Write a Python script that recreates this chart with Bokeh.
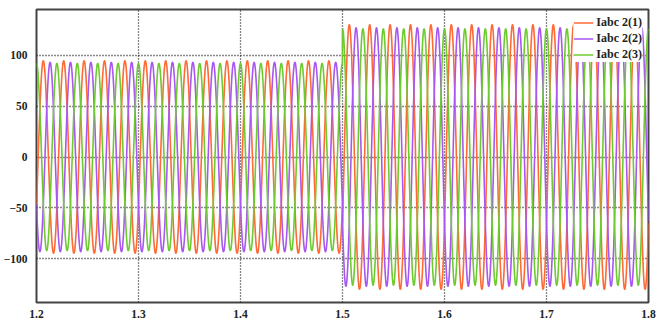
import numpy as np
from bokeh.plotting import figure
from bokeh.models import Range1d, FixedTicker, Legend, LegendItem
from bokeh.embed import file_html
from bokeh.resources import INLINE

# Values
series_names = ["Iabc 2(1)", "Iabc 2(2)", "Iabc 2(3)"]
series_colors = ["#FF6A35", "#A857F2", "#6DCB30"]
freq_hz = 50.0
phase_deg = [-120.0, -240.0, 0.0]          # relative to cos(w t)
amp_before = [94.5, 93.0, 92.0]            # t < 1.5
amp_after = [130.0, 127.0, 126.0]          # t >= 1.5
step_time = 1.5
t_start, t_end = 1.2, 1.8
x_ticks = [1.2, 1.3, 1.4, 1.5, 1.6, 1.7, 1.8]
y_ticks = [-100, -50, 0, 50, 100]

t = np.linspace(t_start, t_end, 6001)

p = figure(width=667, height=320, output_backend="svg", toolbar_location=None,
           x_range=Range1d(t_start, t_end), y_range=Range1d(-143, 145),
           min_border_left=36, min_border_right=19, min_border_top=9, min_border_bottom=18)

renderers = []
for name, col, ph, a0, a1 in zip(series_names, series_colors, phase_deg, amp_before, amp_after):
    amp = np.where(t < step_time, a0, a1)
    y = amp * np.cos(2 * np.pi * freq_hz * t + np.deg2rad(ph))
    r = p.line(t, y, line_color=col, line_width=1.6)
    renderers.append((name, r))

p.xaxis.ticker = FixedTicker(ticks=x_ticks)
p.yaxis.ticker = FixedTicker(ticks=y_ticks)
p.xaxis.major_label_overrides = {v: f"{v:.1f}" for v in x_ticks}

for ax in (p.xaxis, p.yaxis):
    ax.major_label_text_font = "Liberation Serif"
    ax.major_label_text_font_style = "bold"
    ax.major_label_text_font_size = "11.5px"
    ax.major_label_text_color = "#222222"
    ax.axis_line_color = None
    ax.major_tick_line_color = None
    ax.minor_tick_line_color = None
p.xaxis.major_label_standoff = 1
p.yaxis.major_label_standoff = 3

p.xgrid.grid_line_color = "#111111"
p.ygrid.grid_line_color = "#111111"
p.xgrid.grid_line_dash = "1 2"
p.ygrid.grid_line_dash = "1 2"
p.xgrid.grid_line_width = 1.3
p.ygrid.grid_line_width = 1.3

p.outline_line_color = "#444444"
p.outline_line_width = 2
p.background_fill_color = "white"
p.border_fill_color = "white"

legend = Legend(items=[LegendItem(label=n, renderers=[r]) for n, r in renderers],
                location="top_right",
                label_text_font="Liberation Serif", label_text_font_style="bold",
                label_text_font_size="12px", label_text_color="#222222",
                label_height=11, glyph_height=11, glyph_width=20,
                spacing=1, padding=3, margin=6,
                border_line_color=None, background_fill_color="white",
                background_fill_alpha=1.0, label_standoff=3)
p.add_layout(legend)

open("out.html", "w").write(file_html(p, INLINE))
